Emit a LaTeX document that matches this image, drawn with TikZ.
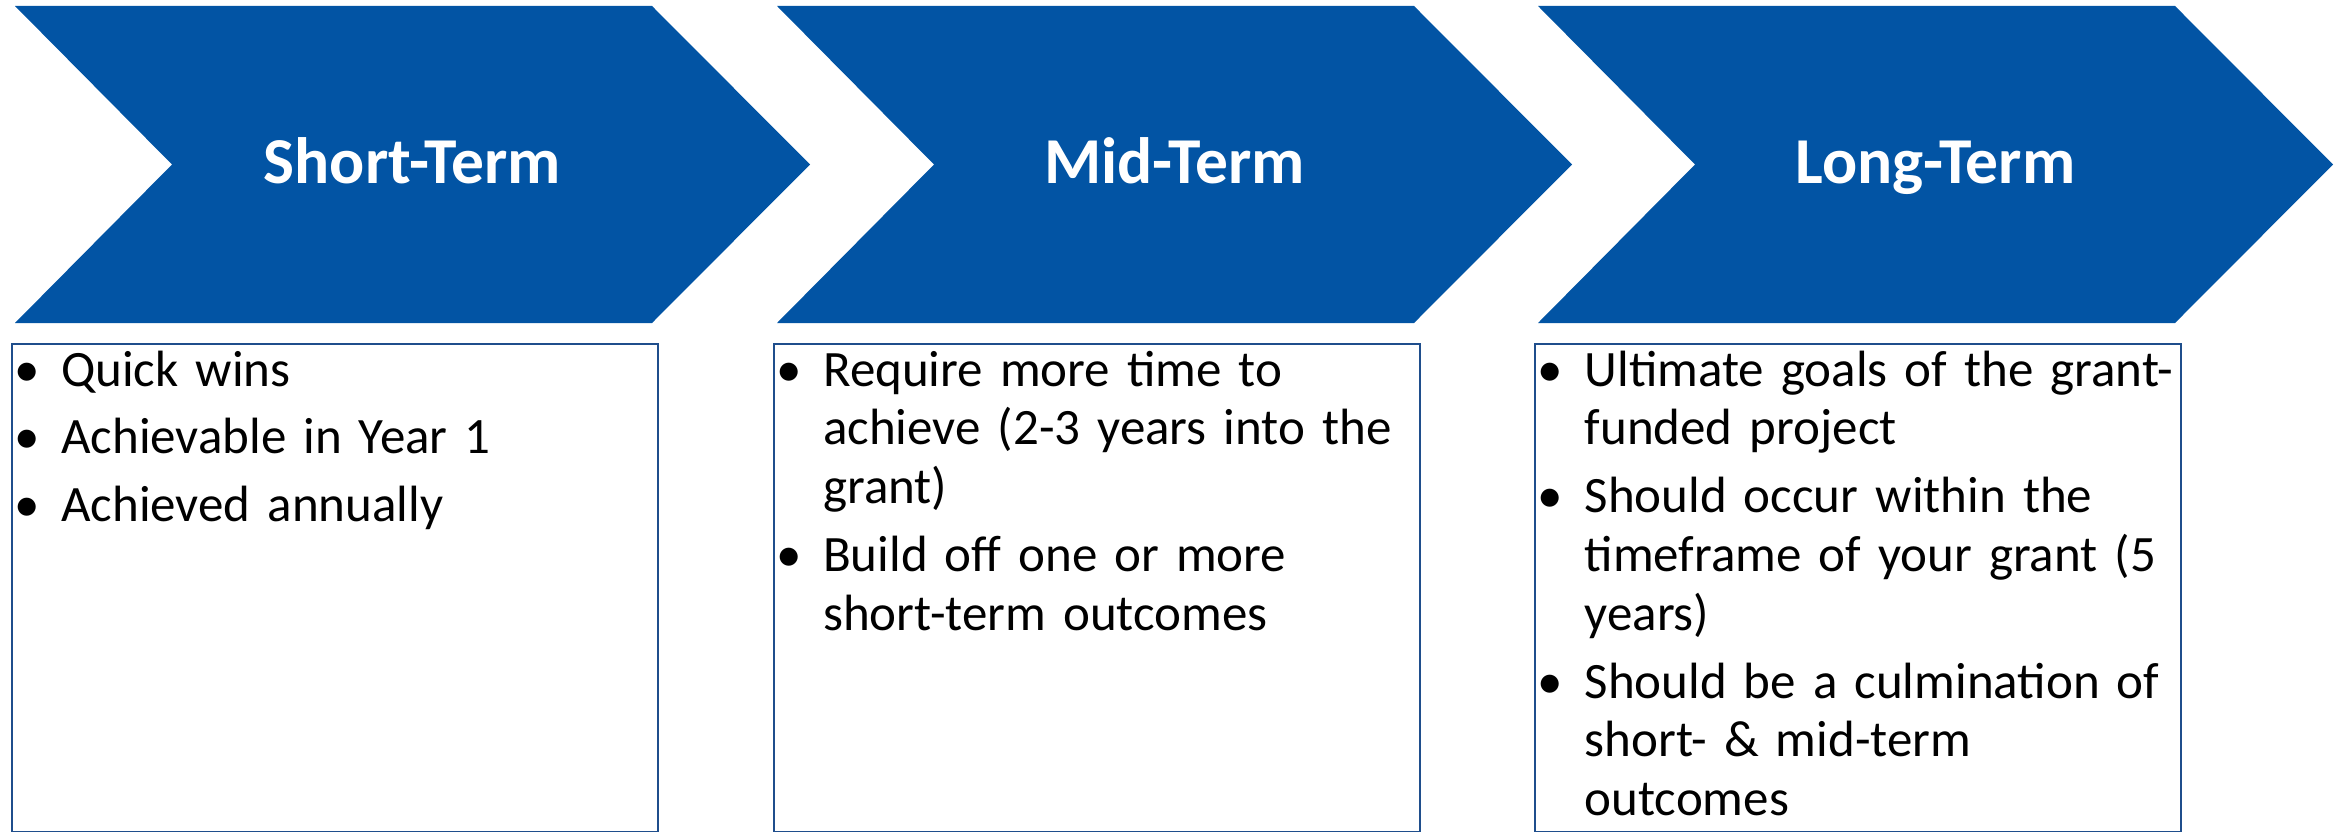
\documentclass[tikz,border=0pt]{standalone}
\usepackage{fontspec}
\setmainfont{Carlito}
\usetikzlibrary{calc}

\definecolor{stageblue}{RGB}{2,84,164}
\definecolor{boxline}{RGB}{31,78,140}

\tikzset{
  chevron/.style={fill=stageblue, draw=none},
  stagetitle/.style={text=white, anchor=base, inner sep=0pt,
    font=\fontsize{65.5}{78}\selectfont\bfseries},
  outbox/.style={draw=boxline, line width=2pt, anchor=north west,
    minimum width=646pt, minimum height=488pt, inner sep=0pt},
  outtext/.style={anchor=base west, inner sep=0pt, text width=700pt, align=left,
    font=\fontsize{51}{58.8}\selectfont}
}

% bullet line with hanging text
\newcommand{\bitem}[1]{\noindent\hangindent=47pt\hangafter=1
  \makebox[47pt][l]{\textbullet}#1\par\parskip=9pt\relax}

\begin{document}
\begin{tikzpicture}[x=1pt,y=-1pt]
  \useasboundingbox (0,0) rectangle (2351,832);

  % Draw the three chevrons with their titles
  \foreach \x/\i/\name in {15/1/Short-Term, 777/2/Mid-Term, 1538/3/Long-Term} {
    \draw[chevron] (\x,6) -- ({\x+637},6) -- ({\x+795},164.5) -- ({\x+637},323)
      -- (\x,323) -- ({\x+157},164.5) -- cycle;
    \node[stagetitle] (title\i) at ({\x+397.5},183) {\name};
  }

  % Draw the boxes below the chevrons
  \node[outbox] (box1) at (11,343) {};
  \node[outbox] (box2) at (773,343) {};
  \node[outbox] (box3) at (1534,343) {};

  % Fill in the bullet lists
  \node[outtext] (list1) at ($(box1.north west)+(3,43)$) {\parskip=0pt
    \bitem{Quick wins}
    \bitem{Achievable in Year 1}
    \bitem{Achieved annually}};
  \node[outtext] (list2) at ($(box2.north west)+(3,43)$) {\parskip=0pt
    \bitem{Require more time to\newline achieve (2-3 years into the\newline grant)}
    \bitem{Build off one or more\newline short-term outcomes}};
  \node[outtext] (list3) at ($(box3.north west)+(3.5,43)$) {\parskip=0pt
    \bitem{Ultimate goals of the grant-\newline funded project}
    \bitem{Should occur within the\newline timeframe of your grant (5\newline years)}
    \bitem{Should be a culmination of\newline short- \& mid-term\newline outcomes}};

\end{tikzpicture}
\end{document}
